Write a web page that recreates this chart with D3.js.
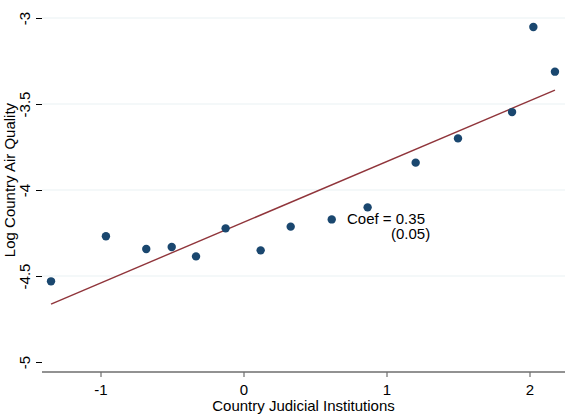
<!DOCTYPE html>
<html>
<head>
<meta charset="utf-8">
<script src="https://cdn.jsdelivr.net/npm/d3@7"></script>
<style>
  html, body { margin: 0; padding: 0; background: #ffffff; }
  svg { display: block; font-family: "Liberation Sans", Arial, sans-serif; }
</style>
</head>
<body>
<svg id="chart" width="580" height="417"></svg>
<script>
// ---- data ----
const judicial = [-1.346, -0.962, -0.680, -0.502, -0.332, -0.125, 0.120, 0.330, 0.617, 0.868, 1.204, 1.500, 1.878, 2.027, 2.178];
const airQuality = [-4.531, -4.269, -4.343, -4.331, -4.386, -4.223, -4.351, -4.213, -4.171, -4.101, -3.841, -3.700, -3.547, -3.052, -3.312];
const fitIntercept = -4.188;
const fitSlope = 0.353;
const xTicks = [-1, 0, 1, 2];
const yTicks = [-5, -4.5, -4, -3.5, -3];
const yGridTicks = [-4.5, -4, -3.5, -3];
const coefLines = ["Coef = 0.35", "(0.05)"];
const xTitle = "Country Judicial Institutions";
const yTitle = "Log Country Air Quality";

// ---- layout ----
const svg = d3.select("#chart");
const plotLeft = 42, plotRight = 565, axisY = 372;
const fs = 15;

const x = d3.scaleLinear().domain([-1, 2]).range([100.5, 529.5]);
const y = d3.scaleLinear().domain([-5, -3]).range([362, 18]);

// gridlines
svg.append("g").selectAll("line").data(yGridTicks).join("line")
  .attr("x1", plotLeft).attr("x2", plotRight)
  .attr("y1", d => y(d)).attr("y2", d => y(d))
  .attr("stroke", "#eaf2f3").attr("stroke-width", 1.2);

// y axis (ticks + rotated labels, no axis line)
const yAxis = d3.axisLeft(y).tickValues(yTicks).tickSize(6).tickPadding(0)
  .tickFormat(d => String(d));
const gy = svg.append("g").attr("transform", `translate(${plotLeft},0)`).call(yAxis);
gy.select(".domain").remove();
gy.selectAll(".tick line").attr("stroke", "#000").attr("stroke-width", 1);
gy.selectAll(".tick text")
  .attr("x", null).attr("dy", null)
  .attr("text-anchor", "middle")
  .attr("transform", `translate(-12,0) rotate(-90)`)
  .attr("font-size", fs).attr("fill", "#000");

// x axis
const xAxis = d3.axisBottom(x).tickValues(xTicks).tickSize(5).tickPadding(0).tickFormat(d => String(d));
const gx = svg.append("g").attr("transform", `translate(0,${axisY})`).call(xAxis);
gx.select(".domain").attr("d", `M${plotLeft},0H${plotRight}`).attr("stroke", "#6e6e6e").attr("stroke-width", 1.5);
gx.selectAll(".tick line").attr("stroke", "#6e6e6e").attr("stroke-width", 1.2);
gx.selectAll(".tick text").attr("y", 23).attr("dy", null)
  .attr("font-size", fs).attr("fill", "#000");

// fit line
const xExt = d3.extent(judicial);
svg.append("line")
  .attr("x1", x(xExt[0])).attr("y1", y(fitIntercept + fitSlope * xExt[0]))
  .attr("x2", x(xExt[1])).attr("y2", y(fitIntercept + fitSlope * xExt[1]))
  .attr("stroke", "#90353b").attr("stroke-width", 1.4);

// points
svg.append("g").selectAll("circle").data(judicial).join("circle")
  .attr("cx", d => x(d)).attr("cy", (d, i) => y(airQuality[i]))
  .attr("r", 4.2).attr("fill", "#1a476f");

// coefficient annotation
svg.append("text").attr("x", 347).attr("y", 224).attr("font-size", fs).attr("fill", "#000").text(coefLines[0]);
svg.append("text").attr("x", 391).attr("y", 239).attr("font-size", fs).attr("fill", "#000").text(coefLines[1]);

// titles
svg.append("text").attr("x", (plotLeft + plotRight) / 2).attr("y", 411)
  .attr("text-anchor", "middle").attr("font-size", fs).attr("fill", "#000").text(xTitle);
svg.append("text").attr("transform", "translate(14.5,180) rotate(-90)")
  .attr("text-anchor", "middle").attr("font-size", fs).attr("fill", "#000").text(yTitle);
</script>
</body>
</html>
